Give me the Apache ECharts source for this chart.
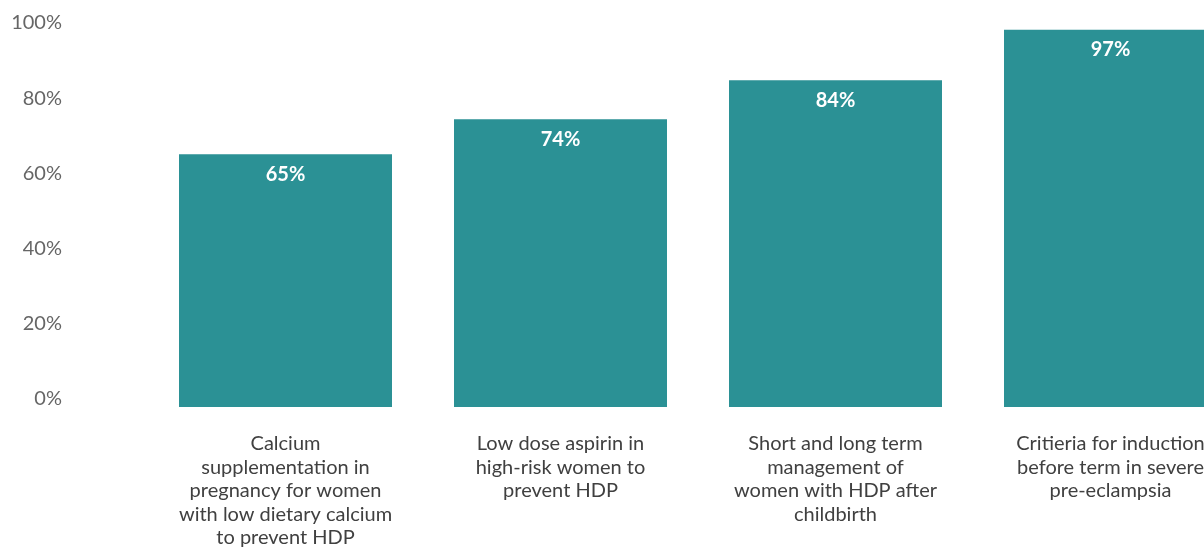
<!DOCTYPE html>
<html>
<head>
<meta charset="utf-8">
<script src="https://cdn.jsdelivr.net/npm/echarts@6/dist/echarts.min.js"></script>
<style>
  html, body { margin: 0; padding: 0; background: #ffffff; }
  #chart { width: 1204px; height: 548px; }
</style>
</head>
<body>
<div id="chart"></div>
<script>
// Categories (line breaks as they appear under each bar)
const categories = [
  'Calcium\nsupplementation in\npregnancy for women\nwith low dietary calcium\nto prevent HDP',
  'Low dose aspirin in\nhigh-risk women to\nprevent HDP',
  'Short and long term\nmanagement of\nwomen with HDP after\nchildbirth',
  'Critieria for induction\nbefore term in severe\npre-eclampsia'
];
// Share of respondents, in percent
const values = [65, 74, 84, 97];
// Tick labels on the percentage axis
const tickValues = [0, 20, 40, 60, 80, 100];

const BAR_COLOR = '#2b9195';
const FONT = 'Lato, "Open Sans", sans-serif';

const chart = echarts.init(document.getElementById('chart'), null, { renderer: 'canvas' });

chart.setOption({
  animation: false,
  backgroundColor: '#ffffff',
  grid: {
    left: 148, top: 18, width: 1100, height: 389,
    containLabel: false,
    outerBoundsMode: 'none'
  },
  xAxis: {
    type: 'category',
    data: categories,
    axisLine: { show: false },
    axisTick: { show: false },
    axisLabel: {
      interval: 0,
      margin: 25,
      color: '#404040',
      fontFamily: FONT,
      fontSize: 20,
      lineHeight: 23.5,
      align: 'center'
    }
  },
  yAxis: [
    {
      // visible percentage scale
      type: 'value',
      min: -2.13,
      max: 101.33,
      axisLine: { show: false },
      axisTick: { show: false },
      splitLine: { show: false },
      axisLabel: {
        customValues: tickValues,
        formatter: '{value}%',
        margin: 86,
        color: '#666666',
        fontFamily: FONT,
        fontSize: 20
      }
    },
    {
      // scale the bars are drawn on
      type: 'value',
      min: 0,
      max: 100,
      show: false
    }
  ],
  series: [{
    type: 'bar',
    yAxisIndex: 1,
    data: values,
    barWidth: 213,
    itemStyle: { color: BAR_COLOR },
    label: {
      show: true,
      position: 'insideTop',
      distance: 10,
      formatter: '{c}%',
      color: '#ffffff',
      fontFamily: FONT,
      fontWeight: 'bold',
      fontSize: 20
    }
  }]
});
</script>
</body>
</html>
